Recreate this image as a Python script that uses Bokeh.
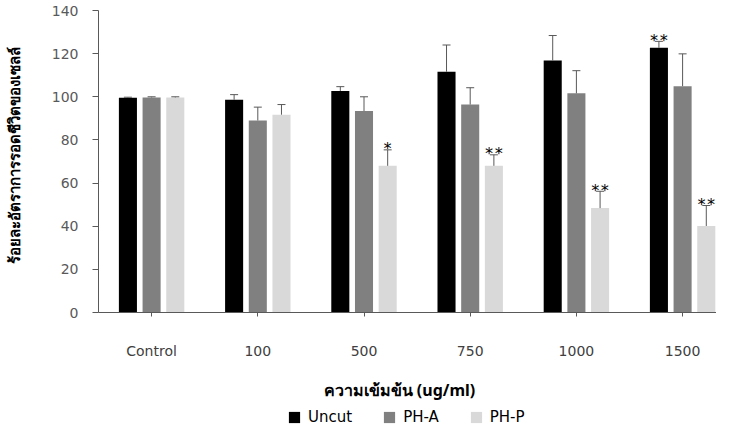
import numpy as np
from bokeh.plotting import figure
from bokeh.models import (ColumnDataSource, Range1d, FixedTicker, Whisker, TeeHead,
                          Label, Legend, LegendItem)
from bokeh.embed import file_html
from bokeh.resources import INLINE
from bokeh.core.properties import value

# ---- data ----
categories = ["Control", "100", "500", "750", "1000", "1500"]
series_names = ["Uncut", "PH-A", "PH-P"]
uncut = [99.5, 98.6, 102.7, 111.6, 116.8, 122.7]
uncut_err = [0.3, 2.4, 2.0, 12.4, 11.6, 3.0]
uncut_sig = ["", "", "", "", "", "**"]
pha = [99.7, 89.0, 93.4, 96.4, 101.6, 104.9]
pha_err = [0.3, 6.2, 6.6, 7.8, 10.5, 15.0]
pha_sig = ["", "", "", "", "", ""]
php = [99.7, 91.7, 68.0, 68.0, 48.4, 40.1]
php_err = [0.3, 4.7, 7.4, 5.1, 7.8, 9.5]
php_sig = ["", "", "*", "**", "**", "**"]
y_ticks = [0, 20, 40, 60, 80, 100, 120, 140]
y_title = "ร้อยละอัตราการรอดชีวิตของเซลล์"
x_title = "ความเข้มข้น  (ug/ml)"

colors = ["#000000", "#808080", "#d9d9d9"]
offsets = [-0.223, 0.0, 0.223]
FONT = "DejaVu Sans"
TFONT = "Noto Sans"

# ---- layout (pixels) ----
W, H = 716, 427
axis_x_px, axis_y_px, top_y_px = 98, 312, 10
y_max = 140
px_per_y = (axis_y_px - top_y_px) / y_max
px_per_x = 106.2
x_start = -axis_x_px / px_per_x
x_end = (W - axis_x_px) / px_per_x
y_end = y_max + top_y_px / px_per_y
y_start = -(H - axis_y_px) / px_per_y

p = figure(width=W, height=H, output_backend="svg", toolbar_location=None,
           x_range=Range1d(x_start, x_end), y_range=Range1d(y_start, y_end),
           min_border=0)
p.outline_line_color = None
p.xgrid.visible = False
p.ygrid.visible = False

centers = [i + 0.5 for i in range(len(categories))]
renderers = []
for vals, errs, sig, col, off in zip([uncut, pha, php], [uncut_err, pha_err, php_err],
                                     [uncut_sig, pha_sig, php_sig], colors, offsets):
    src = ColumnDataSource(dict(
        x=[c + off for c in centers], top=vals,
        upper=[v + e for v, e in zip(vals, errs)], sig=sig))
    r = p.vbar(x="x", top="top", bottom=0, width=0.17, source=src,
               fill_color=col, line_color=None)
    renderers.append(r)
    w = Whisker(source=src, base="x", lower="top", upper="upper", dimension="height",
                line_color="#595959", line_width=1,
                upper_head=TeeHead(size=8, line_color="#595959", line_width=1),
                lower_head=None, level="overlay")
    p.add_layout(w)
    p.text(x="x", y="upper", text="sig", source=src, text_align="center",
           text_baseline="alphabetic", text_font=value("DejaVu Sans Mono"),
           text_font_size="16px", text_color="#000000", y_offset=-1)

# axes drawn at data zero
p.yaxis.fixed_location = 0
p.yaxis.bounds = (0, y_max)
p.yaxis.ticker = FixedTicker(ticks=y_ticks)
p.yaxis.major_tick_in = 0
p.yaxis.major_tick_out = 6
p.yaxis.minor_tick_line_color = None
p.yaxis.major_label_standoff = 14
p.yaxis.axis_line_color = "#595959"
p.yaxis.major_tick_line_color = "#595959"
p.yaxis.major_label_text_color = "#595959"
p.yaxis.major_label_text_font = FONT
p.yaxis.major_label_text_font_size = "14px"

p.xaxis.fixed_location = 0
p.xaxis.bounds = (0, x_end)
p.xaxis.ticker = FixedTicker(ticks=centers)
p.xaxis.major_label_overrides = {c: lab for c, lab in zip(centers, categories)}
p.xaxis.major_tick_in = 0
p.xaxis.major_tick_out = 4
p.xaxis.minor_tick_line_color = None
p.xaxis.major_label_standoff = 26
p.xaxis.axis_line_color = "#595959"
p.xaxis.major_tick_line_color = "#595959"
p.xaxis.major_label_text_color = "#404040"
p.xaxis.major_label_text_font = FONT
p.xaxis.major_label_text_font_size = "14px"

# axis titles (screen units; frame covers whole canvas)
p.add_layout(Label(x=13, y=H - 155, x_units="screen", y_units="screen",
                   text=y_title, angle=np.pi / 2,
                   text_align="center", text_baseline="middle",
                   text_font=TFONT, text_font_style="bold", text_font_size="15px",
                   text_color="#000000"))
p.add_layout(Label(x=401, y=H - 389, x_units="screen", y_units="screen",
                   text=x_title,
                   text_align="center", text_baseline="middle",
                   text_font=TFONT, text_font_style="bold", text_font_size="16px",
                   text_color="#000000"))

legend = Legend(items=[LegendItem(label=n, renderers=[r]) for n, r in zip(series_names, renderers)],
                orientation="horizontal", location=(287, 1),
                border_line_color=None, background_fill_alpha=0, padding=0, margin=0,
                glyph_width=14, glyph_height=14, label_height=14, label_standoff=7,
                spacing=30, label_text_font=FONT, label_text_font_size="15px",
                label_text_color="#000000")
p.add_layout(legend, "center")

open("out.html", "w").write(file_html(p, INLINE))
